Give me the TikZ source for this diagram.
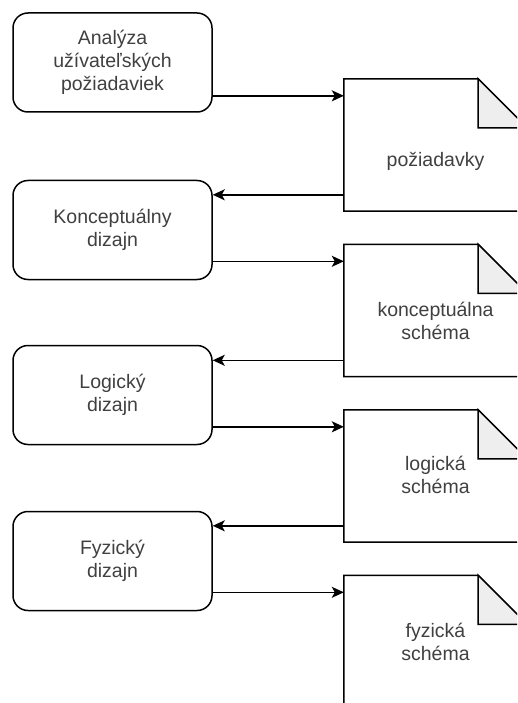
\documentclass[tikz,border=0pt]{standalone}
\usepackage{fontspec}
\setmainfont{Liberation Sans}
\usetikzlibrary{arrows.meta}
\definecolor{txt}{HTML}{404040}
\definecolor{foldfill}{HTML}{EEEEEE}
\begin{document}
\begin{tikzpicture}[x=1pt,y=-1pt,
  lbl/.style={font=\fontsize{19.5}{23}\selectfont, text=txt, align=center},
  stepbox/.style={lbl, draw, line width=1.5pt, rounded corners=15pt,
    minimum width=199pt, minimum height=99pt, inner sep=0pt},
  docarea/.style={minimum width=183pt, minimum height=132pt, inner sep=0pt},
  docline/.style={line width=1.5pt, line join=miter},
  arr/.style={line width=1.5pt, -{Stealth[length=12pt,width=11pt,inset=3pt]}}]
\useasboundingbox (0,0) rectangle (517,703);
\clip (0,0) rectangle (517,703);

% process steps
\node[stepbox] (b1) at (112.5,62.5) {Analýza\\užívateľských\\požiadaviek};
\node[stepbox] (b2) at (112.5,230) {Konceptuálny\\dizajn};
\node[stepbox] (b3) at (112.5,395) {Logický\\dizajn};
\node[stepbox] (b4) at (112.5,561) {Fyzický\\dizajn};

% documents (dog-eared sheets)
\node[docarea] (d1) at (435.5,145) {};
\node[docarea] (d2) at (435.5,310.5) {};
\node[docarea] (d3) at (435.5,476) {};
\node[docarea] (d4) at (435.5,641.5) {};
\foreach \d in {d1,d2,d3,d4}{
  \draw[docline] (\d.north west) -- ([xshift=-49pt]\d.north east)
    -- ([yshift=-49pt]\d.north east) -- (\d.south east) -- (\d.south west) -- cycle;
  \draw[docline, fill=foldfill] ([xshift=-49pt]\d.north east)
    -- ([xshift=-49pt,yshift=-49pt]\d.north east) -- ([yshift=-49pt]\d.north east) -- cycle;
}
% labels, placed by the baseline of their last line
\node[lbl, anchor=base] (t1) at (435.5,167) {požiadavky};
\node[lbl, anchor=base] (t2) at (435.5,339) {konceptuálna\\schéma};
\node[lbl, anchor=base] (t3) at (435.5,493) {logická\\schéma};
\node[lbl, anchor=base] (t4) at (435.5,660) {fyzická\\schéma};

% step -> document
\foreach \b/\d in {b1/d1,b2/d2,b3/d3,b4/d4}{
  \path (\d.north west) ++(0,17) coordinate (\d in);
  \draw[arr] (\b.east |- \d in) -- (\d in);
}
% document -> next step
\foreach \d/\b in {d1/b2,d2/b3,d3/b4}{
  \path (\d.north west) ++(0,116) coordinate (\d out);
  \draw[arr] (\d out) -- (\b.east |- \d out);
}
\end{tikzpicture}
\end{document}
